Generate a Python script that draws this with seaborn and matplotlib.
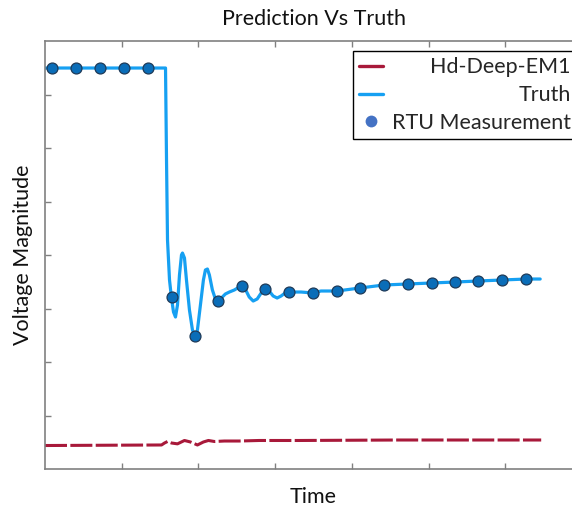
import numpy as np
import pandas as pd
import matplotlib
matplotlib.use("Agg")
import matplotlib.pyplot as plt
from matplotlib.lines import Line2D
import seaborn as sns

# ---- data (axis units: x 0..7, y 0..8) ----
truth_x = [0.000, 1.571, 1.584, 1.597, 1.623, 1.649, 1.675, 1.701, 1.727, 1.753,
           1.779, 1.792, 1.818, 1.844, 1.883, 1.922, 1.961, 1.987, 2.026, 2.065,
           2.091, 2.117, 2.143, 2.182, 2.221, 2.260, 2.299, 2.351, 2.403, 2.468,
           2.532, 2.571, 2.610, 2.662, 2.714, 2.766, 2.818, 2.870, 2.922, 2.974,
           3.026, 3.078, 3.130, 3.182, 3.338, 3.494, 3.597, 3.805, 4.104, 4.416,
           4.727, 5.039, 5.351, 5.649, 5.961, 6.273, 6.455]
truth_y = [7.495, 7.495, 5.776, 4.280, 3.533, 3.196, 2.935, 2.841, 3.065, 3.626,
           4.000, 4.037, 3.944, 3.533, 2.972, 2.598, 2.486, 2.598, 3.065, 3.533,
           3.720, 3.738, 3.626, 3.346, 3.178, 3.140, 3.196, 3.271, 3.308, 3.346,
           3.402, 3.421, 3.364, 3.215, 3.140, 3.178, 3.290, 3.364, 3.327, 3.234,
           3.196, 3.234, 3.290, 3.308, 3.308, 3.290, 3.327, 3.327, 3.383, 3.439,
           3.458, 3.477, 3.495, 3.514, 3.533, 3.551, 3.551]

pred_x = [0.000, 1.519, 1.558, 1.597, 1.649, 1.727, 1.818, 1.896, 1.987, 2.065,
          2.130, 2.208, 2.338, 2.532, 2.792, 3.312, 4.610, 6.468]
pred_y = [0.439, 0.449, 0.486, 0.514, 0.486, 0.470, 0.533, 0.505, 0.449, 0.505,
          0.533, 0.514, 0.523, 0.523, 0.533, 0.533, 0.542, 0.542]

rtu_x = [0.091, 0.403, 0.714, 1.026, 1.338, 1.649, 1.961, 2.260, 2.571, 2.870,
         3.182, 3.494, 3.805, 4.104, 4.416, 4.727, 5.039, 5.351, 5.649, 5.961, 6.273]
rtu_y = [7.495, 7.495, 7.495, 7.495, 7.495, 3.215, 2.486, 3.140, 3.421, 3.364,
         3.308, 3.290, 3.327, 3.383, 3.439, 3.458, 3.477, 3.495, 3.514, 3.533, 3.551]

x_ticks = [1, 2, 3, 4, 5, 6]
y_ticks = [1, 2, 3, 4, 5, 6, 7]
labels = ["Hd-Deep-EM1", "Truth", "RTU Measurement"]

# ---- style ----
sns.set_style("white")
plt.rcParams["font.family"] = ["Lato", "DejaVu Sans"]

RED = "#a8193a"
BLUE = "#16a0f2"
MFACE = "#0a6db8"
MEDGE = "#1e3a58"
LEGMARK = "#4472c4"
SPINE = "#808080"
FS = 15.5

W, H = 572, 508
fig = plt.figure(figsize=(W / 100, H / 100), dpi=100)
ax = fig.add_axes([45 / W, (H - 469) / H, (582 - 45) / W, (469 - 41) / H])

pred_df = pd.DataFrame({"t": pred_x, "v": pred_y})
truth_df = pd.DataFrame({"t": truth_x, "v": truth_y})
rtu_df = pd.DataFrame({"t": rtu_x, "v": rtu_y})

sns.lineplot(data=pred_df, x="t", y="v", ax=ax, color=RED, linewidth=2.2,
             estimator=None, sort=False, legend=False)
ax.lines[-1].set_dashes((7.2, 1.1))
ax.lines[-1].set_dash_capstyle("butt")
sns.lineplot(data=truth_df, x="t", y="v", ax=ax, color=BLUE, linewidth=2.3,
             estimator=None, sort=False, legend=False)
sns.scatterplot(data=rtu_df, x="t", y="v", ax=ax, color=MFACE, s=62,
                edgecolor=MEDGE, linewidth=0.9, legend=False, zorder=5)

ax.set_xlim(0, 7)
ax.set_ylim(0, 8)
ax.set_xticks(x_ticks)
ax.set_yticks(y_ticks)
ax.set_xticklabels([])
ax.set_yticklabels([])
ax.tick_params(direction="in", length=4, width=1, color=SPINE,
               top=True, right=True, bottom=True, left=True)
for sp in ax.spines.values():
    sp.set_color(SPINE)
    sp.set_linewidth(1.2)

ax.set_title("Prediction Vs Truth", fontsize=FS, pad=11.5, color="#111111")
ax.set_xlabel("Time", fontsize=FS, labelpad=9.5, color="#111111")
ax.set_ylabel("Voltage Magnitude", fontsize=FS, labelpad=5, color="#111111")

handles = [Line2D([], [], color=RED, lw=2.4),
           Line2D([], [], color=BLUE, lw=2.4),
           Line2D([], [], color=LEGMARK, lw=0, marker="o", markersize=8.5,
                  markeredgewidth=0)]
leg = ax.legend(handles, labels, loc="upper left",
                bbox_to_anchor=(353 / W, 1 - 51 / H), bbox_transform=fig.transFigure,
                borderaxespad=0, fontsize=FS, frameon=True, fancybox=False,
                edgecolor="black", framealpha=1, borderpad=0.3,
                handlelength=1.1, handletextpad=0.4, labelspacing=0.36)
leg.get_frame().set_linewidth(1.0)

# right-align the legend labels
fig.canvas.draw()
r = fig.canvas.get_renderer()
widths = [t.get_window_extent(r).width for t in leg.get_texts()]
mw = max(widths)
for t, w in zip(leg.get_texts(), widths):
    t.set_position((mw - w, 0))

fig.savefig("out.png", dpi=100)
